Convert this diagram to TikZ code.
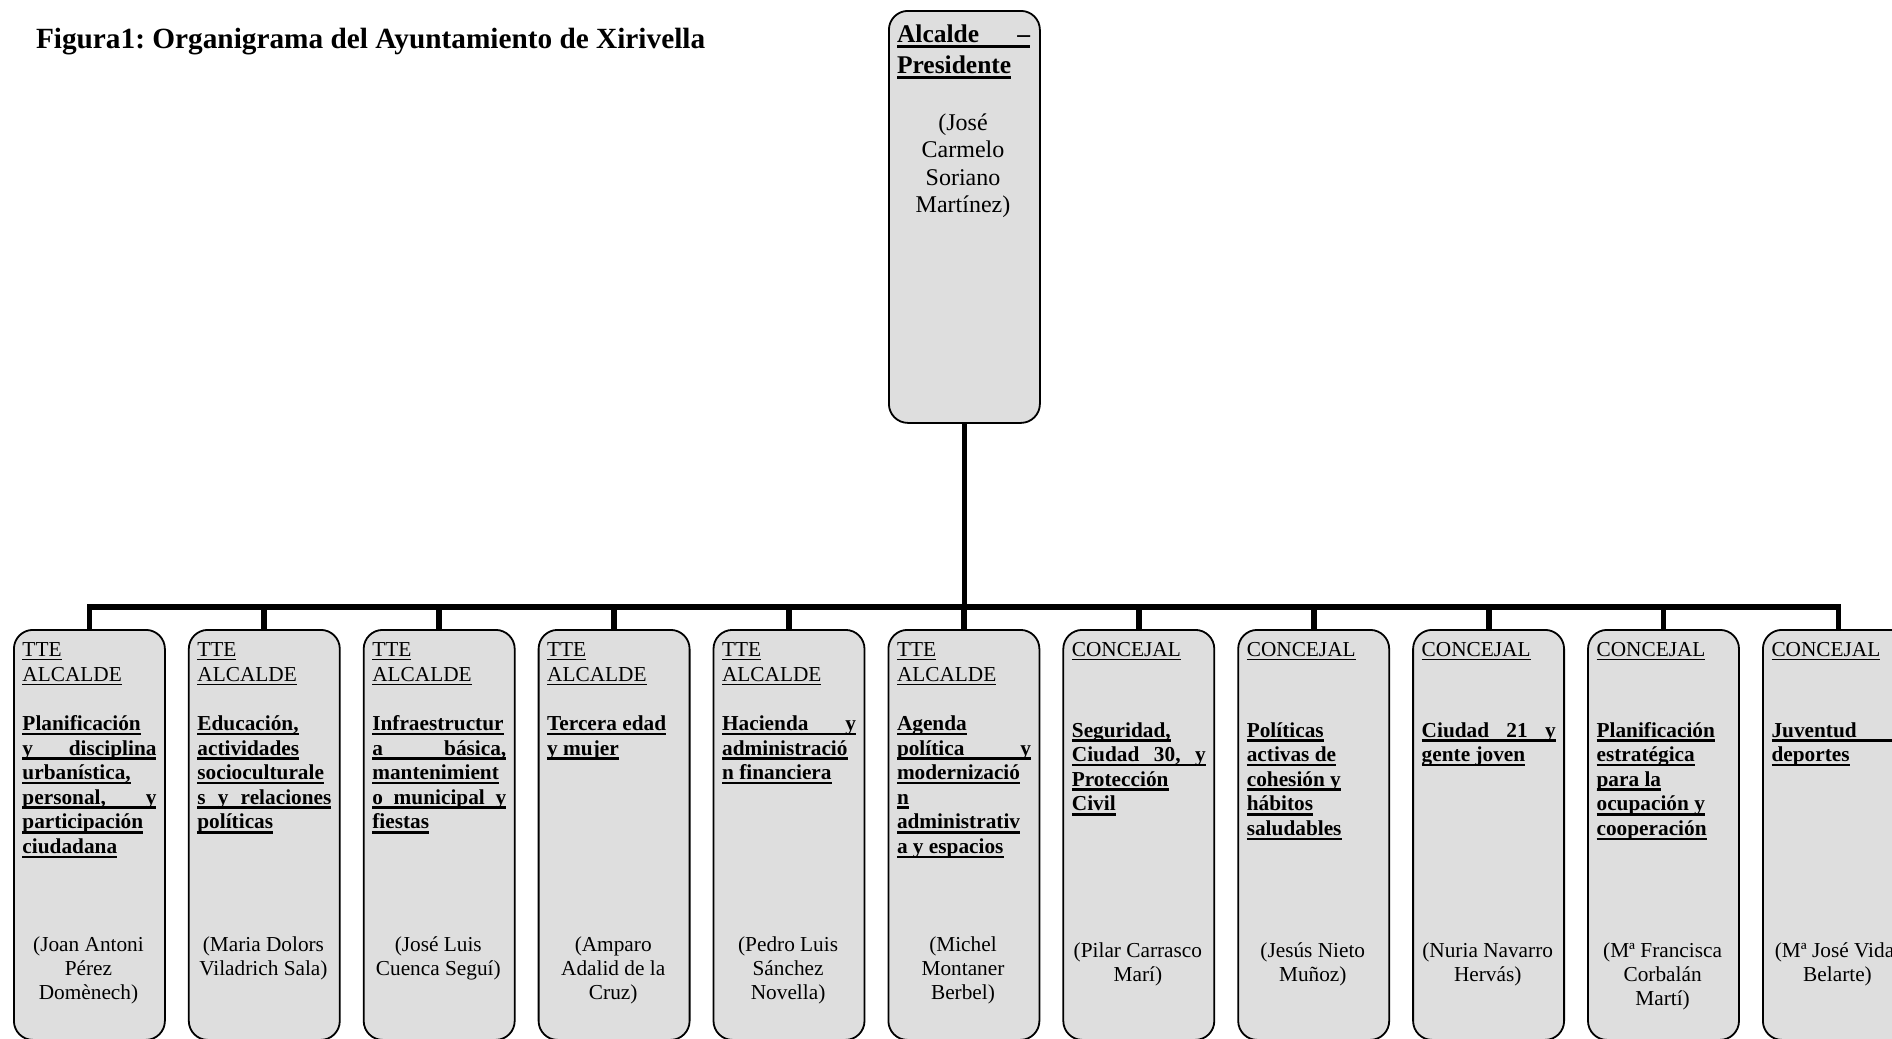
\documentclass[tikz,border=0pt]{standalone}
\usepackage{fontspec}
\setmainfont{Liberation Serif}
\frenchspacing
\definecolor{boxgray}{RGB}{222,222,222}
% underline helpers
\newcommand\ulR[1]{\setbox0\hbox{#1}\rlap{\rule[-1.6pt]{\wd0}{0.5pt}}\box0}
\newcommand\ulB[1]{\setbox0\hbox{#1}\rlap{\rule[-2.3pt]{\wd0}{1.3pt}}\box0}
\newcommand\ulT[1]{\setbox0\hbox{#1}\rlap{\rule[-3pt]{\wd0}{1.5pt}}\box0}
% line helpers
\newcommand\Rl[1]{\hbox{\ulR{#1}}}
\newcommand\Bl[1]{\hbox{\bfseries\ulB{#1}}}
\newcommand\Jl[1]{\hbox{\bfseries\ulB{\hbox to\hsize{#1}}}}
\newcommand\Tl[1]{\hbox{\bfseries\ulT{#1}}}
\newcommand\Tj[1]{\hbox{\bfseries\ulT{\hbox to\hsize{#1}}}}
\newcommand\Cl[1]{\hbox to\hsize{\hfil#1\hfil}}
\newcommand\Gap{\hbox{}}
\newcommand\Stack[4]{\vtop{\fontsize{#1}{#2}\selectfont\hsize=#3\baselineskip=#2\lineskiplimit=-\maxdimen\lineskip=0pt #4}}
\newcommand\Topic[1]{\Stack{10.65pt}{12.3pt}{67pt}{#1}}
\newcommand\Names[1]{\Stack{10.65pt}{12pt}{72pt}{#1}}
\tikzset{
  unit/.style={draw=black, line width=0.9pt, fill=boxgray, rounded corners=9.5pt,
    inner sep=0pt, anchor=north west, minimum width=75.5pt},
  low/.style={unit, minimum height=205pt},
  conn/.style={line width=2.9pt, line join=miter},
  txt/.style={inner sep=0pt, outer sep=0pt, anchor=base west},
  nm/.style={inner sep=0pt, outer sep=0pt, anchor=base},
}
\begin{document}
\begin{tikzpicture}[x=0.5pt,y=-0.5pt]
\useasboundingbox (0,0) rectangle (1892,1039);
\clip (0,0) rectangle (1892,1039);

% title
\node[txt] (title) at (36,48) {\fontsize{14.65pt}{17pt}\selectfont\bfseries Figura1: Organigrama del Ayuntamiento de Xirivella};

% top box
\node[unit, minimum height=206pt] (top) at (888,10) {};
\node[txt] (toph) at (897,42) {\Stack{12.75pt}{15.5pt}{66.5pt}{\Tj{Alcalde\hfill –}\Tl{Presidente}}};
\node[nm] (topn) at (963,130) {\Stack{12pt}{13.75pt}{72pt}{\Cl{(José}\Cl{Carmelo}\Cl{Soriano}\Cl{Martínez)}}};

% lower boxes
\node[low] (b1) at (13,629) {};
\node[low] (b2) at (187.9,629) {};
\node[low] (b3) at (362.8,629) {};
\node[low] (b4) at (537.7,629) {};
\node[low] (b5) at (712.6,629) {};
\node[low] (b6) at (887.5,629) {};
\node[low] (b7) at (1062.4,629) {};
\node[low] (b8) at (1237.3,629) {};
\node[low] (b9) at (1412.2,629) {};
\node[low] (b10) at (1587.1,629) {};
\node[low] (b11) at (1762,629) {};

% connectors
\foreach \i in {1,...,11}{
  \draw[conn] (top.south) -- ++(0,183) -| (b\i.north);
}

% topics
\node[txt] (t1) at (22.5,656.7) {\Topic{\Rl{TTE}\Rl{ALCALDE}\Gap\Bl{Planificación}\Jl{y\hfill disciplina}\Bl{urbanística,}\Jl{personal,\hfill y}\Bl{participación}\Bl{ciudadana}}};
\node[txt] (t2) at (197.4,656.7) {\Topic{\Rl{TTE}\Rl{ALCALDE}\Gap\Bl{Educación,}\Bl{actividades}\Bl{socioculturale}\Jl{s\hfill y\hfill relaciones}\Bl{políticas}}};
\node[txt] (t3) at (372.3,656.7) {\Topic{\Rl{TTE}\Rl{ALCALDE}\Gap\Bl{Infraestructur}\Jl{a\hfill básica,}\Bl{mantenimient}\Jl{o\hfill municipal\hfill y}\Bl{fiestas}}};
\node[txt] (t4) at (547.2,656.7) {\Topic{\Rl{TTE}\Rl{ALCALDE}\Gap\Bl{Tercera edad}\Bl{y mujer}}};
\node[txt] (t5) at (722.1,656.7) {\Topic{\Rl{TTE}\Rl{ALCALDE}\Gap\Jl{Hacienda\hfill y}\Bl{administració}\Bl{n financiera}}};
\node[txt] (t6) at (897,656.7) {\Topic{\Rl{TTE}\Rl{ALCALDE}\Gap\Bl{Agenda}\Jl{política\hfill y}\Bl{modernizació}\Bl{n}\Bl{administrativ}\Bl{a y espacios}}};
\node[txt] (t7) at (1071.9,656.7) {\Topic{\Rl{CONCEJAL}\Gap\Gap\kern3.3pt\Bl{Seguridad,}\Jl{Ciudad\hfill 30,\hfill y}\Bl{Protección}\Bl{Civil}}};
\node[txt] (t8) at (1246.8,656.7) {\Topic{\Rl{CONCEJAL}\Gap\Gap\kern3.3pt\Bl{Políticas}\Bl{activas de}\Bl{cohesión y}\Bl{hábitos}\Bl{saludables}}};
\node[txt] (t9) at (1421.7,656.7) {\Topic{\Rl{CONCEJAL}\Gap\Gap\kern3.3pt\Jl{Ciudad\hfill 21\hfill y}\Bl{gente joven}}};
\node[txt] (t10) at (1596.6,656.7) {\Topic{\Rl{CONCEJAL}\Gap\Gap\kern3.3pt\Bl{Planificación}\Bl{estratégica}\Bl{para la}\Bl{ocupación y}\Bl{cooperación}}};
\node[txt] (t11) at (1771.5,656.7) {\Topic{\Rl{CONCEJAL}\Gap\Gap\kern3.3pt\Jl{Juventud\hfill y}\Bl{deportes}}};

% names
\node[nm] (n1) at (88.5,951.7) {\Names{\Cl{(Joan Antoni}\Cl{Pérez}\Cl{Domènech)}}};
\node[nm] (n2) at (263.4,951.7) {\Names{\Cl{(Maria Dolors}\Cl{Viladrich Sala)}}};
\node[nm] (n3) at (438.3,951.7) {\Names{\Cl{(José Luis}\Cl{Cuenca Seguí)}}};
\node[nm] (n4) at (613.2,951.7) {\Names{\Cl{(Amparo}\Cl{Adalid de la}\Cl{Cruz)}}};
\node[nm] (n5) at (788.1,951.7) {\Names{\Cl{(Pedro Luis}\Cl{Sánchez}\Cl{Novella)}}};
\node[nm] (n6) at (963,951.7) {\Names{\Cl{(Michel}\Cl{Montaner}\Cl{Berbel)}}};
\node[nm] (n7) at (1137.9,957) {\Names{\Cl{(Pilar Carrasco}\Cl{Marí)}}};
\node[nm] (n8) at (1312.8,957) {\Names{\Cl{(Jesús Nieto}\Cl{Muñoz)}}};
\node[nm] (n9) at (1487.7,957) {\Names{\Cl{(Nuria Navarro}\Cl{Hervás)}}};
\node[nm] (n10) at (1662.6,957) {\Names{\Cl{(Mª Francisca}\Cl{Corbalán}\Cl{Martí)}}};
\node[nm] (n11) at (1837.5,957) {\Names{\Cl{(Mª José Vidal}\Cl{Belarte)}}};
\end{tikzpicture}
\end{document}
